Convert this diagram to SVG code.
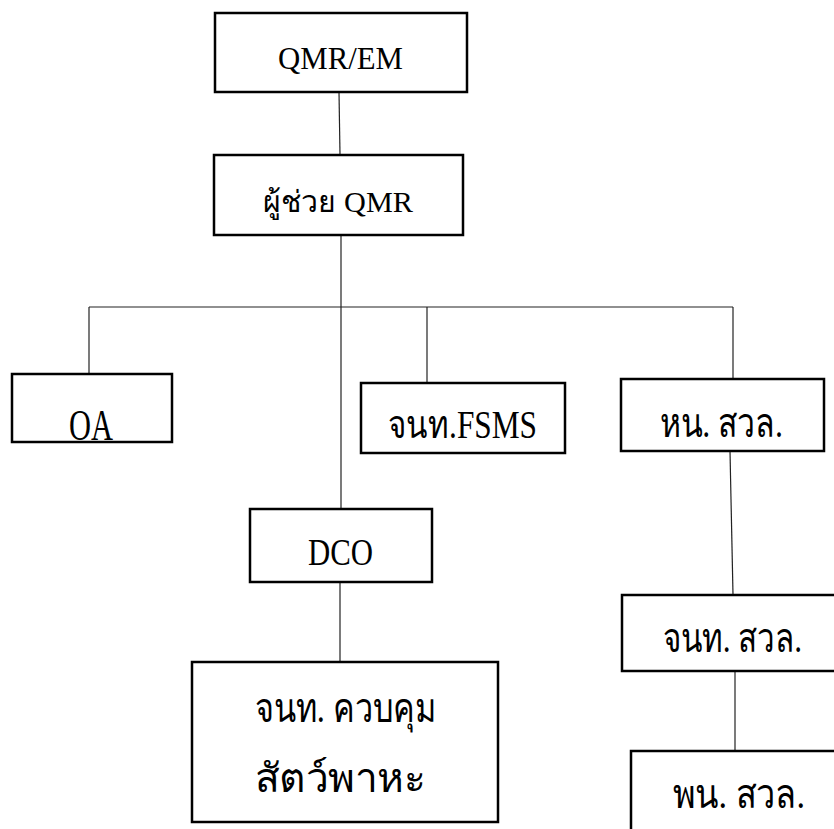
<svg xmlns="http://www.w3.org/2000/svg" width="834" height="829" viewBox="0 0 834 829">
  <style>
    .box { fill: #ffffff; stroke: #000000; stroke-width: 2.5; }
    .link { fill: none; stroke: #222222; stroke-width: 1.2; }
    .lbl { font-family: "Liberation Serif", "Times New Roman", serif; fill: #000000; }
  </style>
  <rect width="834" height="829" fill="#ffffff"/>

  <!-- connectors -->
  <g id="connectors">
    <line class="link" x1="339" y1="92" x2="340" y2="155"/>
    <line class="link" x1="341" y1="235" x2="341" y2="509"/>
    <line class="link" x1="89" y1="307" x2="733" y2="307"/>
    <line class="link" x1="89" y1="307" x2="89" y2="374"/>
    <line class="link" x1="427" y1="307" x2="427" y2="383"/>
    <line class="link" x1="733" y1="307" x2="733" y2="379"/>
    <line class="link" x1="340" y1="582" x2="340" y2="662"/>
    <line class="link" x1="730" y1="451" x2="733" y2="595"/>
    <line class="link" x1="735" y1="668" x2="735" y2="751"/>
  </g>

  <g id="qmr-em">
    <rect class="box" x="215" y="13" width="252" height="79"/>
    <text class="lbl" x="278" y="69" font-size="31" textLength="125" lengthAdjust="spacingAndGlyphs">QMR/EM</text>
  </g>

  <g id="qmr-assistant">
    <rect class="box" x="214" y="155" width="249" height="80"/>
    <text class="lbl" x="263" y="212" font-size="30" textLength="150" lengthAdjust="spacingAndGlyphs">ผู้ช่วย QMR</text>
  </g>

  <g id="oa">
    <rect class="box" x="12" y="374" width="160" height="68"/>
    <text class="lbl" x="69" y="440" font-size="45" textLength="44" lengthAdjust="spacingAndGlyphs">OA</text>
  </g>

  <g id="fsms">
    <rect class="box" x="361" y="383" width="204" height="70"/>
    <text class="lbl" x="388" y="438" font-size="39" textLength="149" lengthAdjust="spacingAndGlyphs">จนท.FSMS</text>
  </g>

  <g id="env-head">
    <rect class="box" x="621" y="379" width="203" height="72"/>
    <text class="lbl" x="660" y="437" font-size="40" textLength="123" lengthAdjust="spacingAndGlyphs">หน. สวล.</text>
  </g>

  <g id="dco">
    <rect class="box" x="250" y="509" width="182" height="73"/>
    <text class="lbl" x="308" y="565" font-size="38" textLength="65" lengthAdjust="spacingAndGlyphs">DCO</text>
  </g>

  <g id="vector-control">
    <rect class="box" x="192" y="662" width="306" height="160"/>
    <text class="lbl" x="255" y="722" font-size="40" textLength="181" lengthAdjust="spacingAndGlyphs">จนท. ควบคุม</text>
    <text class="lbl" x="255" y="792" font-size="40" textLength="170" lengthAdjust="spacingAndGlyphs">สัตว์พาหะ</text>
  </g>

  <g id="env-officer">
    <rect class="box" x="622" y="595" width="240" height="76"/>
    <text class="lbl" x="663" y="652" font-size="40" textLength="139" lengthAdjust="spacingAndGlyphs">จนท. สวล.</text>
  </g>

  <g id="env-staff">
    <rect class="box" x="631" y="751" width="240" height="120"/>
    <text class="lbl" x="673" y="808" font-size="40" textLength="132" lengthAdjust="spacingAndGlyphs">พน. สวล.</text>
  </g>
</svg>
